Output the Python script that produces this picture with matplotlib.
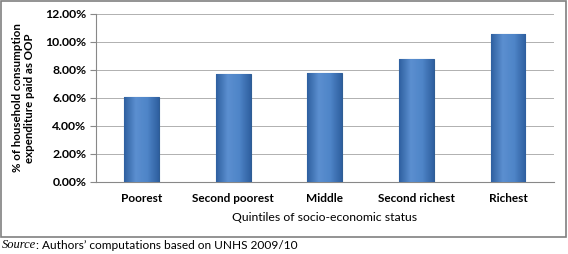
import matplotlib
matplotlib.use('Agg')
import matplotlib.pyplot as plt
import numpy as np
from matplotlib.patches import Rectangle
from matplotlib.colors import LinearSegmentedColormap
from matplotlib.ticker import FuncFormatter

categories = ['Poorest', 'Second poorest', 'Middle', 'Second richest', 'Richest']
oop_share = [6.1, 7.7, 7.8, 8.75, 10.55]
y_ticks = [0, 2, 4, 6, 8, 10, 12]

plt.rcParams['font.family'] = ['Lato', 'DejaVu Sans']

fig = plt.figure(figsize=(5.68, 2.54), dpi=100)
ax = fig.add_axes([0.169, 0.2835, 0.806, 0.6615])

# outer frame around the chart
fig.patches.append(Rectangle((0.002, 0.068), 0.994, 0.928, transform=fig.transFigure,
                             fill=False, edgecolor='#808080', linewidth=1.2))

x = range(len(categories))
bars = ax.bar(x, oop_share, width=0.38, color='#4a7ebb', edgecolor='#2f5d94', linewidth=0.8, zorder=3)

# shaded look of the bars
shade = LinearSegmentedColormap.from_list('shade', ['#2f60a0', '#5b8fd0', '#4f85c8', '#2f60a0'])
grad = np.linspace(0, 1, 64).reshape(1, -1)
for b in bars:
    x0, w, h = b.get_x(), b.get_width(), b.get_height()
    im = ax.imshow(grad, cmap=shade, aspect='auto', extent=[x0, x0 + w, 0, h], zorder=3.5)
    im.set_clip_path(b)

ax.set_ylim(0, 12)
ax.set_xlim(-0.5, len(categories) - 0.5)
ax.set_yticks(y_ticks)
ax.yaxis.set_major_formatter(FuncFormatter(lambda v, p: f'{v:.2f}%'))
ax.set_xticks(list(x))
ax.set_xticklabels(categories)
ax.grid(axis='y', color='#b0b0b0', linewidth=0.7, zorder=0)
ax.tick_params(axis='y', length=4, color='#888888', labelsize=8.8, pad=3)
ax.tick_params(axis='x', length=0, labelsize=8.5, pad=8)
for lab in ax.get_yticklabels() + ax.get_xticklabels():
    lab.set_fontweight('bold')
for s in ['top', 'right']:
    ax.spines[s].set_visible(False)
for s in ['left', 'bottom']:
    ax.spines[s].set_color('#888888')

ax.set_xlabel('Quintiles of socio-economic status', fontsize=8.8, labelpad=6)
fig.text(0.042, 0.614, '% of household consumption\nexpenditure paid as OOP', rotation=90,
         ha='center', va='center', fontsize=8.3, fontweight='bold', linespacing=1.1)

src = fig.text(0.004, 0.035, 'Source', fontsize=9, style='italic', family='Liberation Serif', va='center')
r = fig.canvas.get_renderer()
bb = src.get_window_extent(renderer=r)
fig.text(bb.x1 / fig.bbox.width, 0.035, ': Authors\u2019 computations based on UNHS 2009/10',
         fontsize=8.6, va='center')

fig.savefig('out.png', dpi=100)
